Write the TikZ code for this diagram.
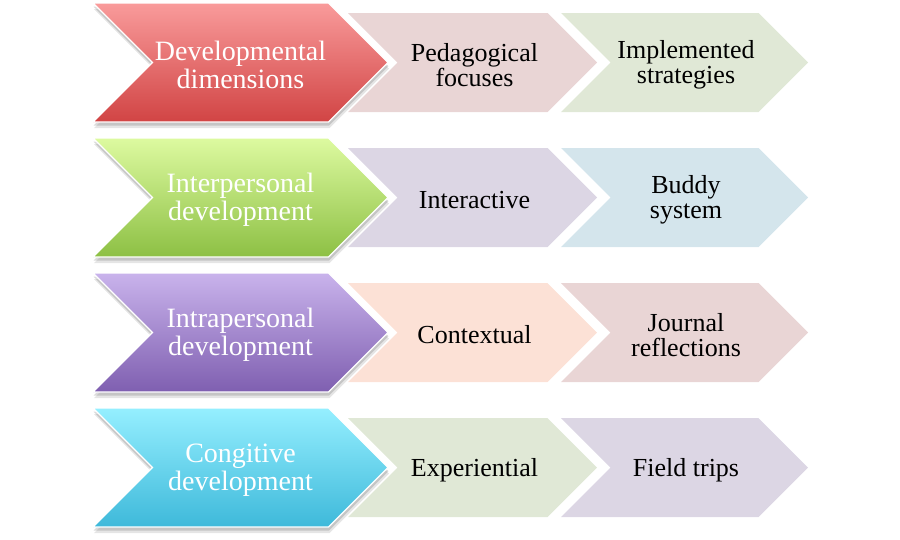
\documentclass[tikz,border=0pt]{standalone}
\usepackage{fontspec}
\setmainfont{Liberation Serif}
\usetikzlibrary{shadows}
\definecolor{redtop}{HTML}{F99B9B}
\definecolor{redbot}{HTML}{D14444}
\definecolor{greentop}{HTML}{DDFAA0}
\definecolor{greenbot}{HTML}{8DC044}
\definecolor{purptop}{HTML}{C9B3EC}
\definecolor{purpbot}{HTML}{7F5FB0}
\definecolor{cyantop}{HTML}{95EFFF}
\definecolor{cyanbot}{HTML}{3EB9DA}
\definecolor{cpink}{HTML}{E9D5D5}
\definecolor{cgreen}{HTML}{E0E8D6}
\definecolor{cpurple}{HTML}{DCD6E4}
\definecolor{cblue}{HTML}{D4E5EC}
\definecolor{cpeach}{HTML}{FCE1D6}
% #1 centre x, #2 centre y, #3 half width, #4 half height
\newcommand\chevronpath[4]{(#1-#3,#2-#4) -- (#1+#3-#4,#2-#4) -- (#1+#3,#2) -- (#1+#3-#4,#2+#4) -- (#1-#3,#2+#4) -- (#1-#3+#4,#2) -- cycle}
\tikzset{
  bigchev/.style={shading=axis, shading angle=0, draw=white, line width=1.2pt,
    preaction={fill=black, opacity=0.10, transform canvas={yshift=-6pt, xshift=1pt}},
    preaction={fill=black, opacity=0.14, transform canvas={yshift=-3.5pt, xshift=0.5pt}}},
  bigtext/.style={text=white, font=\fontsize{28}{28}\selectfont, align=center, inner sep=0pt, yshift=-2.5pt},
  smalltext/.style={text=black, font=\fontsize{26}{24.5}\selectfont, align=center, inner sep=0pt, yshift=-2.5pt}
}
\begin{document}
\begin{tikzpicture}[x=1pt, y=-1pt]
\useasboundingbox (0,0) rectangle (900,539);
% row 1
\fill[cpink] \chevronpath{472.5}{62.5}{124.5}{49.5};
\fill[cgreen] \chevronpath{684.5}{62.5}{123.5}{49.5};
\path[bigchev, top color=redtop, bottom color=redbot] \chevronpath{240.5}{62.5}{147.5}{59.5};
% row 2
\fill[cpurple] \chevronpath{472.5}{197.5}{124.5}{49.5};
\fill[cblue] \chevronpath{684.5}{197.5}{123.5}{49.5};
\path[bigchev, top color=greentop, bottom color=greenbot] \chevronpath{240.5}{197.5}{147.5}{59.5};
% row 3
\fill[cpeach] \chevronpath{472.5}{332.5}{124.5}{49.5};
\fill[cpink] \chevronpath{684.5}{332.5}{123.5}{49.5};
\path[bigchev, top color=purptop, bottom color=purpbot] \chevronpath{240.5}{332.5}{147.5}{59.5};
% row 4
\fill[cgreen] \chevronpath{472.5}{467.5}{124.5}{49.5};
\fill[cpurple] \chevronpath{684.5}{467.5}{123.5}{49.5};
\path[bigchev, top color=cyantop, bottom color=cyanbot] \chevronpath{240.5}{467.5}{147.5}{59.5};
% texts
\node[bigtext] (d1) at (240.5,62.5) {Developmental\\dimensions};
\node[smalltext] (p1) at (474.5,62.5) {Pedagogical\\focuses};
\node[smalltext] (s1) at (686,62.5) {Implemented\\strategies};
\node[bigtext] (d2) at (240.5,197.5) {Interpersonal\\development};
\node[smalltext] (p2) at (474.5,197.5) {Interactive};
\node[smalltext] (s2) at (686,197.5) {Buddy\\system};
\node[bigtext] (d3) at (240.5,332.5) {Intrapersonal\\development};
\node[smalltext] (p3) at (474.5,332.5) {Contextual};
\node[smalltext] (s3) at (686,332.5) {Journal\\reflections};
\node[bigtext] (d4) at (240.5,467.5) {Congitive\\development};
\node[smalltext] (p4) at (474.5,467.5) {Experiential};
\node[smalltext] (s4) at (686,467.5) {Field trips};
\end{tikzpicture}
\end{document}
